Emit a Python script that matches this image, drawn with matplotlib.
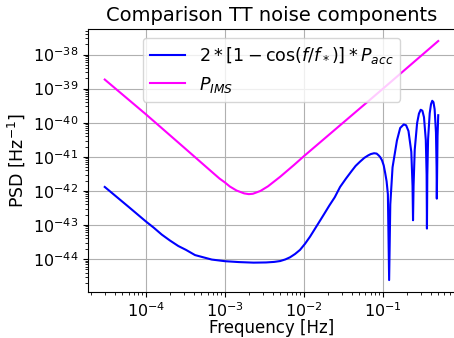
import numpy as np
import matplotlib
matplotlib.use('Agg')
import matplotlib.pyplot as plt

# values
freq_acc = [3.0e-5, 6.0e-5, 1.0e-4, 1.25e-4, 1.58e-4, 2.0e-4, 2.56e-4, 3.2e-4,
            4.17e-4, 5.3e-4, 6.8e-4, 1.0e-3, 1.5e-3, 2.3e-3, 3.3e-3, 4.2e-3,
            5.0e-3, 5.8e-3, 6.65e-3, 7.7e-3, 8.9e-3, 1.03e-2, 1.19e-2, 1.38e-2,
            1.6e-2, 1.8e-2, 2.09e-2, 2.45e-2, 2.86e-2, 3.4e-2, 4.0e-2, 4.5e-2,
            5.12e-2, 5.8e-2, 6.5e-2, 7.0e-2, 7.7e-2, 8.3e-2, 8.8e-2, 9.2e-2,
            9.7e-2, 0.102, 0.1066, 0.111, 0.1152,
            0.1195, 0.1236, 0.132, 0.15, 0.165, 0.183, 0.196, 0.21, 0.228,
            0.2364, 0.2398, 0.2436, 0.252, 0.27, 0.285, 0.30, 0.315, 0.33,
            0.348, 0.3564, 0.3598, 0.3636, 0.372, 0.39, 0.405, 0.42, 0.435,
            0.45, 0.468, 0.4764, 0.4798, 0.49, 0.5]
psd_acc = [1.3e-42, 3.4e-43, 1.25e-43, 8.3e-44, 5.2e-44, 3.5e-44, 2.4e-44, 1.85e-44,
           1.3e-44, 1.12e-44, 9.6e-45, 8.6e-45, 8.1e-45, 7.8e-45, 7.9e-45, 8.2e-45,
           8.7e-45, 9.7e-45, 1.12e-44, 1.4e-44, 1.85e-44, 2.8e-44, 4.5e-44, 7.8e-44,
           1.35e-43, 2.1e-43, 3.7e-43, 6.5e-43, 1.3e-42, 2.3e-42, 3.8e-42, 5.4e-42,
           7.2e-42, 9.3e-42, 1.1e-41, 1.2e-41, 1.27e-41, 1.24e-41, 1.1e-41, 9.8e-42,
           7.9e-42, 5.6e-42, 3.3e-42, 1.9e-42, 8e-43,
           2.4e-45, 4e-43, 4.9e-42, 3.0e-41, 7.0e-41, 8.9e-41, 8.4e-41, 5.7e-41, 1.4e-41,
           1.4e-42, 1.37e-43, 1.4e-42, 1.6e-41, 9.7e-41, 1.85e-40, 2.4e-40, 2.25e-40, 1.45e-40,
           3.1e-41, 3.0e-42, 7.8e-44, 2.9e-42, 3.3e-41, 1.9e-40, 3.5e-40, 4.4e-40, 4.0e-40,
           2.5e-40, 5.2e-41, 5e-42, 5.9e-43, 4e-41, 1.66e-40]

freq_ims = [3e-5, 1e-4, 3e-4, 7e-4, 8.5e-4, 1e-3, 1.15e-3, 1.4e-3, 1.75e-3, 2e-3,
            2.25e-3, 2.8e-3, 3.5e-3, 5e-3, 7.5e-3, 1e-2, 1e-1, 0.5]
psd_ims = [1.85e-39, 1.75e-40, 1.9e-41, 3.4e-42, 2.3e-42, 1.75e-42, 1.34e-42, 1.02e-42,
           8.4e-43, 8e-43, 8.2e-43, 9.9e-43, 1.36e-42, 2.6e-42, 5.8e-42, 1.05e-41,
           1.0e-39, 2.5e-38]

fig = plt.figure(figsize=(4.54, 3.38), dpi=100)
ax = fig.add_axes([0.194, 0.136, 0.808, 0.778])

ax.loglog(freq_acc, psd_acc, color='blue', lw=1.5,
          label=r'$2*[1-\cos(f/f_*)]*P_{acc}$')
ax.loglog(freq_ims, psd_ims, color='magenta', lw=1.5, label=r'$P_{IMS}$')

ax.set_title('Comparison TT noise components', fontsize=14)
ax.set_xlabel('Frequency [Hz]', fontsize=12, labelpad=-1)
ax.set_ylabel('PSD [Hz$^{-1}$]', fontsize=12.5)
ax.tick_params(labelsize=11.5)
ax.yaxis.get_offset_text().set_visible(False)
ax.grid(True)
ax.legend(loc='upper center', fontsize=12.6)

plt.savefig('out.png', dpi=100)
